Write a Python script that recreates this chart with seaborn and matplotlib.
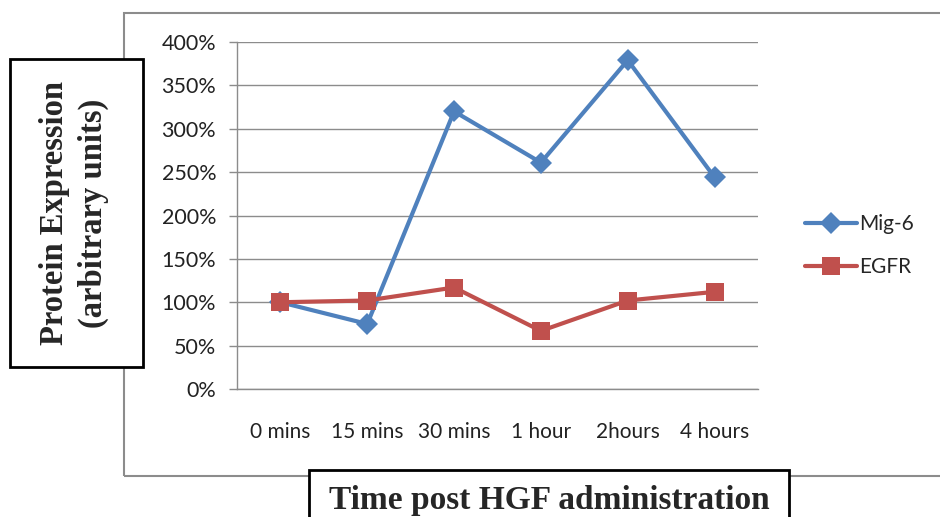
import numpy as np
import pandas as pd
import matplotlib
matplotlib.use("Agg")
import matplotlib.pyplot as plt
import seaborn as sns
from matplotlib.patches import Rectangle
from matplotlib.ticker import FuncFormatter, FixedLocator

# data
time_points = ["0 mins", "15 mins", "30 mins", "1 hour", "2hours", "4 hours"]
mig6 = [100, 75, 320, 261, 379, 244]
egfr = [100, 102, 117, 67, 102, 112]
series_names = ["Mig-6", "EGFR"]

df = pd.DataFrame({
    "time": time_points * 2,
    "pos": list(range(len(time_points))) * 2,
    "value": mig6 + egfr,
    "series": [series_names[0]] * len(mig6) + [series_names[1]] * len(egfr),
})

sns.set_style("white")
plt.rcParams["font.family"] = ["Lato", "DejaVu Sans"]

fig = plt.figure(figsize=(9.4, 5.17), dpi=100)

# outer chart frame (gray)
fig.patches.append(Rectangle((124 / 940, 1 - 476 / 517), 1.0, (476 - 13) / 517,
                             transform=fig.transFigure, fill=False,
                             edgecolor="#8c8c8c", linewidth=1.5, zorder=0))

ax = fig.add_axes([237 / 940, 1 - 389 / 517, (758 - 237) / 940, (389 - 42) / 517])

palette = {"Mig-6": "#4F81BD", "EGFR": "#C0504D"}
markers = {"Mig-6": "D", "EGFR": "s"}
sizes = {"Mig-6": 11.5, "EGFR": 13}
for name in series_names:
    sub = df[df["series"] == name]
    sns.lineplot(data=sub, x="pos", y="value", ax=ax, color=palette[name],
                 marker=markers[name], markersize=sizes[name], linewidth=3,
                 markeredgewidth=0, label=name, legend=False)

ax.set_xlim(-0.5, len(time_points) - 0.5)
ax.set_ylim(0, 400)
ax.set_yticks(np.arange(0, 401, 50))
ax.yaxis.set_major_formatter(FuncFormatter(lambda v, p: f"{int(v)}%"))
ax.yaxis.grid(True, color="#8c8c8c", linewidth=1)
ax.set_axisbelow(True)

# category labels centred, tick marks on the boundaries
ax.set_xticks(range(len(time_points)))
ax.set_xticklabels(time_points)
ax.xaxis.set_minor_locator(FixedLocator(np.arange(-0.5, len(time_points), 1)))
ax.tick_params(axis="x", which="major", length=0, pad=24, labelsize=15, labelcolor="#222222")
ax.tick_params(axis="x", which="minor", length=6, width=1, color="#8c8c8c", direction="out")
ax.tick_params(axis="y", length=6, width=1, color="#8c8c8c", direction="out",
               left=True, pad=9, labelsize=15.5, labelcolor="#222222")
ax.set_xlabel("")
ax.set_ylabel("")

for side in ["top", "right"]:
    ax.spines[side].set_visible(False)
for side in ["left", "bottom"]:
    ax.spines[side].set_color("#8c8c8c")
    ax.spines[side].set_linewidth(1)

handles, labels = ax.get_legend_handles_labels()
fig.legend(handles, labels, loc="center left", bbox_to_anchor=(0.836, 0.525),
           frameon=False, fontsize=15, handlelength=2.5, labelspacing=1.1,
           handletextpad=0.1)

# boxed axis titles
fig.patches.append(Rectangle((10 / 940, 1 - 367 / 517), 133 / 940, 308 / 517,
                             transform=fig.transFigure, facecolor="white",
                             edgecolor="black", linewidth=2, zorder=5))
fig.text(74 / 940, 1 - 213 / 517, "Protein Expression\n(arbitrary units)",
         rotation=90, ha="center", va="center", fontsize=23.5, fontweight="bold",
         family="Liberation Serif", linespacing=1.3, zorder=6)

fig.patches.append(Rectangle((309 / 940, -0.05), 480 / 940, 0.05 + 1 - 470 / 517,
                             transform=fig.transFigure, facecolor="white",
                             edgecolor="black", linewidth=2, zorder=5))
fig.text(549 / 940, 1 - 500 / 517, "Time post HGF administration",
         ha="center", va="center", fontsize=24, fontweight="bold",
         family="Liberation Serif", zorder=6)

fig.savefig("out.png", dpi=100)
